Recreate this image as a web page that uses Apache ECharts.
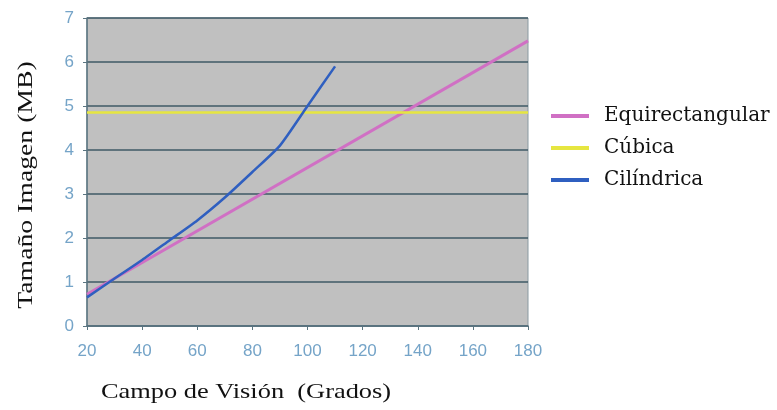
<!DOCTYPE html>
<html><head><meta charset="utf-8">
<script src="https://cdn.jsdelivr.net/npm/echarts@6/dist/echarts.min.js"></script>
<style>html,body{margin:0;padding:0;background:#fff}#c{width:777px;height:410px}</style>
</head><body><div id="c"></div>
<script>
const xTicks = [20, 40, 60, 80, 100, 120, 140, 160, 180];
const equirectangular = [[20, 0.72], [180, 6.48]];
const cubica = [[20, 4.85], [180, 4.85]];
const cilindrica = [[20, 0.65], [30, 1.08], [40, 1.5], [50, 1.95], [60, 2.4], [70, 2.92], [80, 3.5], [90, 4.1], [100, 5.0], [110, 5.9]];
const seriesNames = ['Equirectangular', 'Cúbica', 'Cilíndrica'];
const xName = 'Campo de Visión  (Grados)';
const yName = 'Tamaño Imagen (MB)';

const chart = echarts.init(document.getElementById('c'));
chart.setOption({
  animation: false,
  backgroundColor: '#fff',
  grid: { left: 87, top: 18, right: 249, bottom: 84, show: true, backgroundColor: '#c0c0c0', borderColor: '#8a9aa2', borderWidth: 1 },
  legend: {
    orient: 'vertical', left: 546, top: 101, itemWidth: 38, itemHeight: 4, itemGap: 12, icon: 'rect',
    data: seriesNames,
    textStyle: { fontFamily: 'DejaVu Serif', fontSize: 20, color: '#111', padding: [0, 0, 0, 10] }
  },
  xAxis: {
    type: 'value', min: 20, max: 180, interval: 20,
    axisLine: { show: true, lineStyle: { color: '#5a7480', width: 1.5 } },
    axisTick: { show: true, length: 4, lineStyle: { color: '#5a7480' } },
    axisLabel: { color: '#75a4c8', fontFamily: 'Liberation Sans', fontSize: 17, margin: 17, formatter: v => xTicks.includes(v) ? String(v) : '' },
    splitLine: { show: false }
  },
  yAxis: {
    type: 'value', min: 0, max: 7, interval: 1,
    axisLine: { show: true, lineStyle: { color: '#5a7480', width: 1.5 } },
    axisTick: { show: true, length: 4, lineStyle: { color: '#5a7480' } },
    axisLabel: { color: '#75a4c8', fontFamily: 'Liberation Sans', fontSize: 17, margin: 13 },
    splitLine: { show: true, lineStyle: { color: '#3f5a66', width: 1.5 } }
  },
  graphic: [{
    type: 'text', x: 246, y: 392, scaleX: 1.2,
    style: { text: xName, fontFamily: 'Liberation Serif', fontSize: 22, fill: '#111', align: 'center', verticalAlign: 'middle' }
  }, {
    type: 'text', x: 26, y: 185, rotation: Math.PI / 2, scaleX: 1.32,
    style: { text: yName, fontFamily: 'Liberation Serif', fontSize: 21, fill: '#111', align: 'center', verticalAlign: 'middle' }
  }],
  series: [
    { name: seriesNames[0], type: 'line', data: equirectangular, symbol: 'none', lineStyle: { color: '#d070c4', width: 3 }, itemStyle: { color: '#d070c4' } },
    { name: seriesNames[1], type: 'line', data: cubica, symbol: 'none', lineStyle: { color: '#e6e640', width: 2.5 }, itemStyle: { color: '#e6e640' } },
    { name: seriesNames[2], type: 'line', data: cilindrica, symbol: 'none', smooth: 0.2, lineStyle: { color: '#2f5fc0', width: 2.5 }, itemStyle: { color: '#2f5fc0' } }
  ]
});
</script></body></html>
